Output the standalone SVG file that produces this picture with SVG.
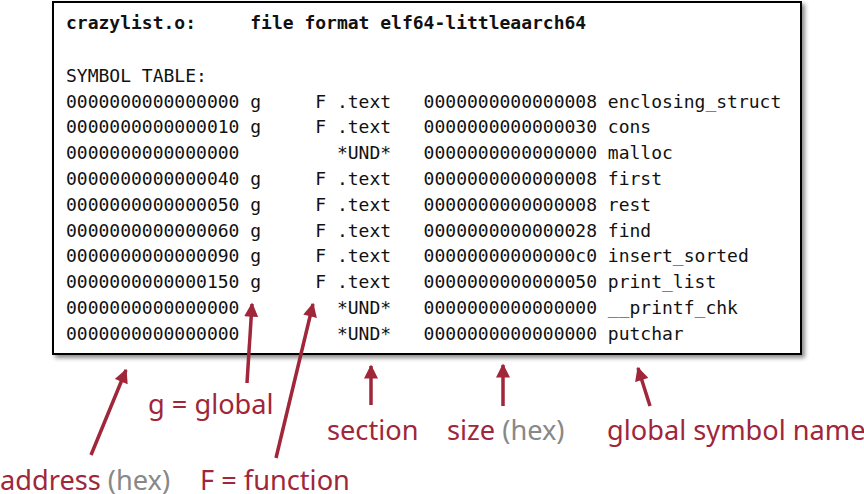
<svg xmlns="http://www.w3.org/2000/svg" width="864" height="494" viewBox="0 0 864 494">
<defs>
<style>
.mono{font-family:"DejaVu Sans Mono","Liberation Mono",monospace;font-size:18px;fill:#111;white-space:pre}
.hdr{font-weight:bold}
.lbl{font-family:"Noto Sans","Open Sans",sans-serif;font-size:27.2px;fill:#a0263a}
.gray{fill:#888}
.arr{stroke:#a0263a;stroke-width:3.5;fill:none;marker-end:url(#ah)}
</style>
<marker id="ah" viewBox="0 0 10 10" refX="9" refY="5" markerWidth="4.2" markerHeight="4" orient="auto" markerUnits="strokeWidth">
<path d="M0,0 L10,5 L0,10 z" fill="#a0263a"/>
</marker>
<filter id="sh" x="-5%" y="-5%" width="115%" height="115%">
<feDropShadow dx="3" dy="3" stdDeviation="2.2" flood-color="#000" flood-opacity="0.45"/>
</filter>
</defs>
<g id="table">
<rect x="53" y="2" width="748" height="352" fill="#fff" stroke="#000" stroke-width="2" filter="url(#sh)"/>
<text class="mono hdr" x="66" y="29" xml:space="preserve">crazylist.o:     file format elf64-littleaarch64</text>
<text class="mono" x="66" y="82" xml:space="preserve">SYMBOL TABLE:</text>
<text class="mono" x="66" y="107.5" xml:space="preserve">0000000000000000 g     F .text   0000000000000008 enclosing_struct</text>
<text class="mono" x="66" y="133.3" xml:space="preserve">0000000000000010 g     F .text   0000000000000030 cons</text>
<text class="mono" x="66" y="159.1" xml:space="preserve">0000000000000000         *UND*   0000000000000000 malloc</text>
<text class="mono" x="66" y="184.9" xml:space="preserve">0000000000000040 g     F .text   0000000000000008 first</text>
<text class="mono" x="66" y="210.7" xml:space="preserve">0000000000000050 g     F .text   0000000000000008 rest</text>
<text class="mono" x="66" y="236.5" xml:space="preserve">0000000000000060 g     F .text   0000000000000028 find</text>
<text class="mono" x="66" y="262.3" xml:space="preserve">0000000000000090 g     F .text   00000000000000c0 insert_sorted</text>
<text class="mono" x="66" y="288.1" xml:space="preserve">0000000000000150 g     F .text   0000000000000050 print_list</text>
<text class="mono" x="66" y="313.9" xml:space="preserve">0000000000000000         *UND*   0000000000000000 __printf_chk</text>
<text class="mono" x="66" y="339.7" xml:space="preserve">0000000000000000         *UND*   0000000000000000 putchar</text>
</g>
<g id="connectors">
<line class="arr" x1="91" y1="455" x2="126" y2="370"/>
<line class="arr" x1="247" y1="383" x2="252" y2="304"/>
<line class="arr" x1="276" y1="458" x2="313" y2="304"/>
<line class="arr" x1="371" y1="405" x2="371" y2="366"/>
<line class="arr" x1="503" y1="406" x2="503" y2="365"/>
<line class="arr" x1="650" y1="406" x2="638" y2="368"/>
</g>
<g id="label-address"><text class="lbl" x="0" y="490">address <tspan class="gray">(hex)</tspan></text></g>
<g id="label-global"><text class="lbl" x="148" y="414">g = global</text></g>
<g id="label-function"><text class="lbl" x="200" y="490">F = function</text></g>
<g id="label-section"><text class="lbl" x="327" y="440">section</text></g>
<g id="label-size"><text class="lbl" x="447" y="440">size <tspan class="gray">(hex)</tspan></text></g>
<g id="label-name"><text class="lbl" x="607" y="440">global symbol name</text></g>
</svg>
